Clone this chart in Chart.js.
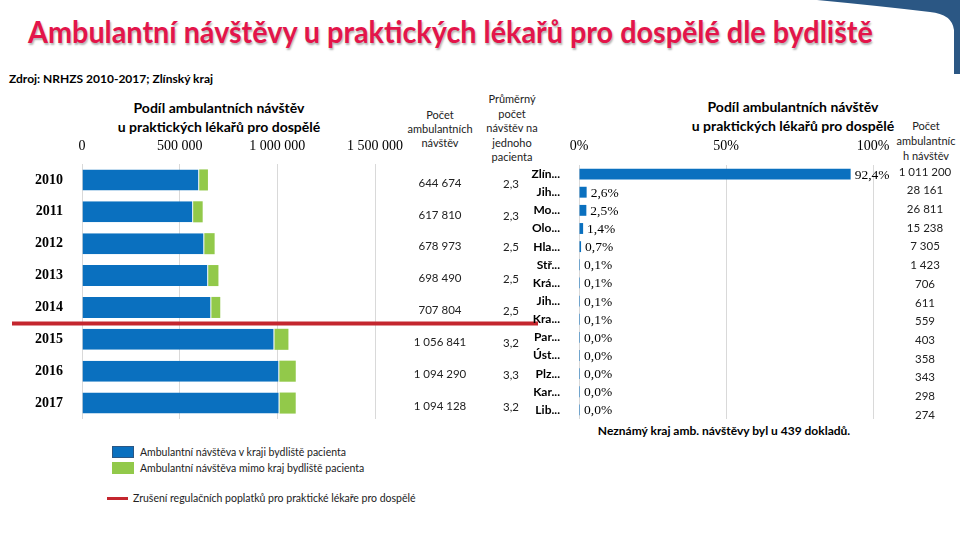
<!DOCTYPE html>
<html>
<head>
<meta charset="utf-8">
<script src="https://cdn.jsdelivr.net/npm/chart.js@4.4.0/dist/chart.umd.min.js"></script>
<style>
    body { margin: 0; width: 960px; height: 540px; overflow: hidden; background: #fff; position: relative; font-family: Lato, sans-serif; color: #000; }
    canvas { position: absolute; left: 0; top: 0; }
    .t { position: absolute; white-space: nowrap; }
    .c { text-align: center; transform: translateX(-50%); }
    .hdr { font-size: 11px; line-height: 14px; color: #222; }
    .ttl { font-size: 14px; font-weight: bold; line-height: 19px; }
    .box { position: absolute; width: 22px; height: 12px; }
</style>
</head>
<body>
<svg class="t" style="left:0;top:0" width="960" height="90">
    <path d="M817,0 L960,0 L960,74 L954,74 L954,30 Q952,14 930,12 Q880,6 817,0 Z" fill="#2b5784"/>
</svg>
<div class="t" id="mainTitle" style="left:28px;top:13px;font-size:30px;font-weight:bold;color:#e3154a;text-shadow:1px 2px 2px rgba(0,0,0,0.3);transform-origin:0 0;">Ambulantní návštěvy u praktických lékařů pro dospělé dle bydliště</div>
<div class="t" style="left:9px;top:71px;font-size:12px;font-weight:bold;">Zdroj: NRHZS 2010-2017; Zlínský kraj</div>

<div class="t c ttl" style="left:219px;top:98px;">Podíl ambulantních návštěv<br>u praktických lékařů pro dospělé</div>
<div class="t c hdr" style="left:440px;top:108px;">Počet<br>ambulantních<br>návštěv</div>
<div class="t c hdr" style="left:512px;top:92px;line-height:14.5px;">Průměrný<br>počet<br>návštěv na<br>jednoho<br>pacienta</div>

<div class="t c ttl" style="left:793px;top:97px;">Podíl ambulantních návštěv<br>u praktických lékařů pro dospělé</div>
<div class="t c hdr" style="left:926px;top:118px;line-height:15px;">Počet<br>ambulantníc<br>h návštěv</div>
<div class="t c" style="left:724px;top:423px;font-size:12px;font-weight:bold;">Neznámý kraj amb. návštěvy byl u 439 dokladů.</div>

<div class="box" style="left:112px;top:446px;background:#0a70bf;border:1px solid #2b5784;width:20px;height:10px;"></div>
<div class="t hdr" style="left:140px;top:445px;font-size:10.5px;">Ambulantní návštěva v kraji bydliště pacienta</div>
<div class="box" style="left:112px;top:462px;background:#92c94a;"></div>
<div class="t hdr" style="left:140px;top:461px;font-size:10.5px;">Ambulantní návštěva mimo kraj bydliště pacienta</div>
<div class="box" style="left:107px;top:497px;width:21px;height:3px;background:#c4262e;"></div>
<div class="t hdr" style="left:133px;top:491px;font-size:10.5px;">Zrušení regulačních poplatků pro praktické lékaře pro dospělé</div>

<canvas id="leftChart" width="960" height="540"></canvas>
<canvas id="rightChart" width="960" height="540"></canvas>

<script>
// levy graf - roky
const years = ['2010', '2011', '2012', '2013', '2014', '2015', '2016', '2017'];
const inRegion = [600000, 569000, 626000, 646000, 662000, 985000, 1010000, 1011200];
const outRegion = [44700, 48800, 53000, 52500, 45800, 71800, 84300, 82900];
const visitTotals = [644674, 617810, 678973, 698490, 707804, 1056841, 1094290, 1094128];
const avgVisits = ['2,3', '2,3', '2,5', '2,5', '2,5', '3,2', '3,3', '3,2'];
const leftTicks = [0, 500000, 1000000, 1500000];

// pravy graf - kraje bydliste
const regions = ['Zlín...', 'Jih...', 'Mo...', 'Olo...', 'Hla...', 'Stř...', 'Krá...', 'Jih...', 'Kra...', 'Par...', 'Úst...', 'Plz...', 'Kar...', 'Lib...'];
const regionShare = [92.4, 2.6, 2.5, 1.4, 0.7, 0.13, 0.06, 0.06, 0.05, 0.04, 0.03, 0.03, 0.03, 0.03];
const regionVisits = [1011200, 28161, 26811, 15238, 7305, 1423, 706, 611, 559, 403, 358, 343, 298, 274];
const rightTicks = [0, 50, 100];

const blue = '#0a70bf';
const green = '#92c94a';
const gridColor = '#d9d9d9';

function fmt(n) {
    return String(n).replace(/\B(?=(\d{3})+(?!\d))/g, ' ');
}

function fmtPct(v) {
    return (Math.round(v * 10) / 10).toFixed(1).replace('.', ',') + '%';
}

const leftExtras = {
    id: 'leftExtras',
    afterDraw(chart) {
        const ctx = chart.ctx;
        const y = chart.scales.y;
        ctx.save();
        ctx.font = '11.5px Lato';
        ctx.fillStyle = '#222';
        ctx.textAlign = 'center';
        ctx.textBaseline = 'middle';
        years.forEach((yr, i) => {
            const py = y.getPixelForValue(i);
            ctx.fillText(fmt(visitTotals[i]), 440, py + 3);
            ctx.fillText(avgVisits[i], 511, py + 4);
        });
        // zruseni poplatku mezi 2014 a 2015
        const ly = (y.getPixelForValue(4) + y.getPixelForValue(5)) / 2;
        ctx.strokeStyle = '#c4262e';
        ctx.lineWidth = 4;
        ctx.beginPath();
        ctx.moveTo(12, ly);
        ctx.lineTo(538, ly);
        ctx.stroke();
        ctx.restore();
    }
};

const rightExtras = {
    id: 'rightExtras',
    afterDatasetsDraw(chart) {
        const ctx = chart.ctx;
        const y = chart.scales.y;
        const meta = chart.getDatasetMeta(0);
        ctx.save();
        ctx.font = '13.5px "Liberation Serif"';
        ctx.fillStyle = '#000';
        ctx.textBaseline = 'middle';
        meta.data.forEach((bar, i) => {
            ctx.fillText(fmtPct(regionShare[i]), bar.x + 4, bar.y + 1);
        });
        ctx.font = '11.5px Lato';
        ctx.fillStyle = '#222';
        ctx.textAlign = 'center';
        const y0 = y.getPixelForValue(0) - 2;
        const y1 = y.getPixelForValue(regions.length - 1) + 5;
        regionVisits.forEach((v, i) => {
            ctx.fillText(fmt(v), 925, y0 + (y1 - y0) * i / (regions.length - 1));
        });
        ctx.restore();
    }
};

new Chart(document.getElementById('leftChart'), {
    type: 'bar',
    data: {
        labels: years,
        datasets: [
            {
                label: 'Ambulantní návštěva v kraji bydliště pacienta',
                data: inRegion,
                backgroundColor: blue,
                borderColor: '#fff',
                borderWidth: {top: 0, bottom: 0, left: 0, right: 1}
            },
            {
                label: 'Ambulantní návštěva mimo kraj bydliště pacienta',
                data: outRegion,
                backgroundColor: green,
                borderWidth: 0
            }
        ]
    },
    options: {
        indexAxis: 'y',
        responsive: false,
        animation: false,
        events: [],
        layout: {padding: {left: 0, right: 585, top: 0, bottom: 121}},
        datasets: {bar: {barPercentage: 0.66, categoryPercentage: 1}},
        scales: {
            x: {
                stacked: true,
                position: 'top',
                min: 0,
                max: 1500000,
                afterBuildTicks: s => { s.ticks = leftTicks.map(v => ({value: v})); },
                afterFit: s => { s.height = 164; },
                ticks: {
                    color: '#000',
                    padding: 9,
                    maxRotation: 0,
                    font: {family: "'Liberation Serif'", size: 14},
                    callback: v => fmt(v)
                },
                grid: {color: gridColor, drawTicks: false},
                border: {display: false}
            },
            y: {
                stacked: true,
                afterFit: s => { s.width = 82; },
                ticks: {
                    color: '#000',
                    padding: 11,
                    font: {family: "'Liberation Serif'", size: 14, weight: 'bold'}
                },
                grid: {display: false},
                border: {display: false}
            }
        },
        plugins: {
            legend: {display: false},
            tooltip: {enabled: false}
        }
    },
    plugins: [leftExtras]
});

new Chart(document.getElementById('rightChart'), {
    type: 'bar',
    data: {
        labels: regions,
        datasets: [
            {
                label: 'Podíl',
                data: regionShare,
                backgroundColor: blue,
                borderWidth: 0,
                minBarLength: 1
            }
        ]
    },
    options: {
        indexAxis: 'y',
        responsive: false,
        animation: false,
        events: [],
        layout: {padding: {left: 0, right: 87, top: 0, bottom: 121}},
        datasets: {bar: {barPercentage: 0.6, categoryPercentage: 1}},
        scales: {
            x: {
                position: 'top',
                min: 0,
                max: 100,
                afterBuildTicks: s => { s.ticks = rightTicks.map(v => ({value: v})); },
                afterFit: s => { s.height = 165; },
                ticks: {
                    color: '#000',
                    padding: 10,
                    maxRotation: 0,
                    font: {family: "'Liberation Serif'", size: 14},
                    callback: v => v + '%'
                },
                grid: {color: gridColor, drawTicks: false},
                border: {display: false}
            },
            y: {
                afterFit: s => { s.width = 579; },
                ticks: {
                    color: '#000',
                    padding: 11,
                    font: {family: 'Lato', size: 12, weight: 'bold'}
                },
                grid: {display: false},
                border: {display: false}
            }
        },
        plugins: {
            legend: {display: false},
            tooltip: {enabled: false}
        }
    },
    plugins: [rightExtras]
});

// titulek roztahnout na sirku jako v predloze
const mt = document.getElementById('mainTitle');
mt.style.transform = 'scaleX(' + (845 / mt.offsetWidth) + ')';
</script>
</body>
</html>
